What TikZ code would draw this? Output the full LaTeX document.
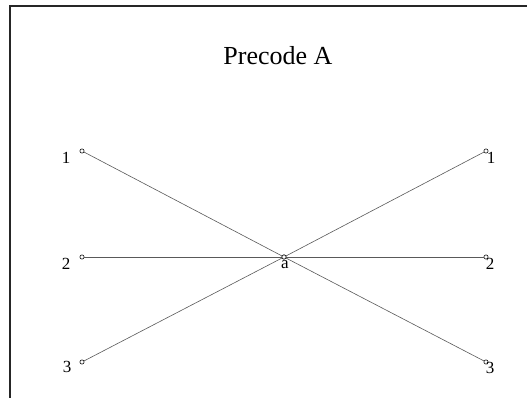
\documentclass[tikz,border=0pt]{standalone}
\usepackage{fontspec}
\setmainfont{Liberation Serif}
\begin{document}
\begin{tikzpicture}[x=1pt,y=-1pt,
  pt/.style={circle,draw=black!85,fill=white,line width=0.7pt,inner sep=0pt,minimum size=4.2pt},
  edge/.style={draw=black!65,line width=0.6pt},
  lbl/.style={inner sep=0pt,font=\fontsize{17}{17}\selectfont},
  frame/.style={draw=black!85,line width=1.6pt}]
\useasboundingbox (0,0) rectangle (527,398);
\draw[frame] (10,398) -- (10,6) -- (527,6);
\node[inner sep=0pt,anchor=base,font=\fontsize{26}{26}\selectfont] (title) at (278,65) {Precode A};
\node[pt] (l1) at (82,151) {};
\node[pt] (l2) at (82,257) {};
\node[pt] (l3) at (82,362) {};
\node[pt] (r1) at (486,151) {};
\node[pt] (r2) at (486,257) {};
\node[pt] (r3) at (486,362) {};
\node[pt] (a) at (284,257) {};
\draw[edge] (l1) -- (a) -- (r3);
\draw[edge] (l2) -- (a) -- (r2);
\draw[edge] (l3) -- (a) -- (r1);
\node[pt] at (a) {};
\node[lbl] (tl1) at (66,158) {1};
\node[lbl] (tl2) at (66,264) {2};
\node[lbl] (tl3) at (67,367) {3};
\node[lbl] (tr1) at (491,158) {1};
\node[lbl] (tr2) at (490,264) {2};
\node[lbl] (tr3) at (490,368) {3};
\node[lbl] (ta) at (285,265) {a};
\end{tikzpicture}
\end{document}
